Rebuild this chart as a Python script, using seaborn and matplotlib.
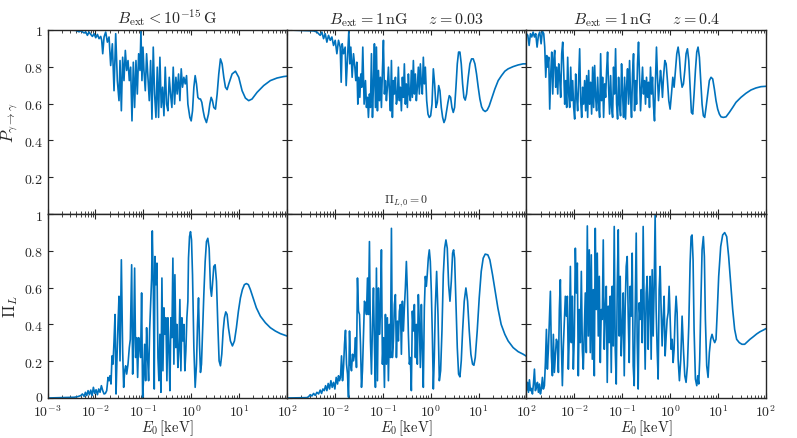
import numpy as np
import pandas as pd
import matplotlib
matplotlib.use('Agg')
import matplotlib.pyplot as plt
import matplotlib.transforms as mtransforms
import seaborn as sns
from matplotlib.ticker import LogLocator, NullFormatter

# log10(E0 / keV) and curve values, one pair of lists per panel
# top row: photon survival probability P_{gamma->gamma}
tl_logE = [-3.0, -2.583, -2.41, -2.34, -2.306, -2.236, -2.201, -2.167, -2.132, -2.097,
           -2.062, -2.028, -1.993, -1.958, -1.924, -1.889, -1.868, -1.847, -1.819, -1.785,
           -1.75, -1.715, -1.681, -1.646, -1.611, -1.576, -1.542, -1.507, -1.486, -1.458,
           -1.431, -1.403, -1.375, -1.347, -1.319, -1.292, -1.264, -1.236, -1.208, -1.181,
           -1.153, -1.125, -1.097, -1.069, -1.049, -1.028, -1.007, -0.986, -0.958, -0.931,
           -0.903, -0.875, -0.847, -0.819, -0.792, -0.764, -0.736, -0.708, -0.681, -0.653,
           -0.625, -0.597, -0.569, -0.542, -0.514, -0.486, -0.458, -0.431, -0.403, -0.375,
           -0.347, -0.319, -0.292, -0.264, -0.236, -0.208, -0.181, -0.153, -0.125, -0.097,
           -0.069, -0.028, 0.0, 0.028, 0.056, 0.083, 0.111, 0.139, 0.167, 0.194,
           0.222, 0.25, 0.278, 0.319, 0.361, 0.389, 0.417, 0.444, 0.472, 0.507,
           0.542, 0.576, 0.611, 0.646, 0.681, 0.715, 0.75, 0.785, 0.854, 0.924,
           0.993, 1.063, 1.132, 1.201, 1.271, 1.375, 1.514, 1.653, 1.792, 1.931, 2.0]
tl_p = [1.0, 1.0, 0.998, 0.99, 0.996, 0.984, 0.99, 0.971, 0.989, 0.976,
        0.965, 0.98, 0.958, 0.976, 0.953, 0.965, 0.944, 0.871, 0.962, 0.989,
        0.934, 0.962, 0.807, 0.925, 0.67, 0.98, 0.725, 0.616, 0.834, 0.561,
        0.852, 0.725, 0.889, 0.78, 0.834, 0.725, 0.798, 0.506, 0.825, 0.579,
        0.834, 0.652, 0.871, 0.78, 0.998, 0.725, 0.907, 0.78, 0.67, 0.871,
        0.743, 0.616, 0.834, 0.516, 0.907, 0.652, 0.525, 0.798, 0.525, 0.852,
        0.579, 0.689, 0.534, 0.798, 0.597, 0.561, 0.743, 0.652, 0.579, 0.798,
        0.597, 0.743, 0.652, 0.761, 0.616, 0.789, 0.689, 0.743, 0.707, 0.752,
        0.597, 0.525, 0.506, 0.561, 0.689, 0.752, 0.707, 0.634, 0.625, 0.625,
        0.607, 0.561, 0.525, 0.497, 0.543, 0.597, 0.634, 0.616, 0.579, 0.57,
        0.652, 0.761, 0.843, 0.816, 0.743, 0.689, 0.676, 0.707, 0.761, 0.776,
        0.743, 0.67, 0.63, 0.616, 0.625, 0.661, 0.698, 0.725, 0.739, 0.747, 0.749]

tm_logE = [-3.0, -2.444, -2.375, -2.306, -2.271, -2.236, -2.201, -2.167, -2.132, -2.097,
           -2.062, -2.028, -1.993, -1.958, -1.924, -1.889, -1.868, -1.847, -1.819, -1.785,
           -1.764, -1.736, -1.708, -1.688, -1.667, -1.639, -1.611, -1.583, -1.563, -1.542,
           -1.521, -1.5, -1.479, -1.458, -1.438, -1.417, -1.389, -1.361, -1.34, -1.319,
           -1.299, -1.278, -1.257, -1.236, -1.215, -1.194, -1.174, -1.153, -1.132, -1.111,
           -1.09, -1.069, -1.049, -1.028, -1.007, -0.986, -0.965, -0.944, -0.924, -0.903,
           -0.882, -0.861, -0.84, -0.819, -0.799, -0.778, -0.757, -0.736, -0.715, -0.694,
           -0.674, -0.653, -0.632, -0.611, -0.59, -0.569, -0.549, -0.528, -0.507, -0.486,
           -0.465, -0.444, -0.424, -0.403, -0.382, -0.361, -0.34, -0.319, -0.299, -0.278,
           -0.257, -0.236, -0.215, -0.194, -0.174, -0.153, -0.132, -0.111, -0.083, -0.056,
           -0.028, 0.0, 0.028, 0.056, 0.083, 0.111, 0.139, 0.167, 0.194, 0.222,
           0.25, 0.278, 0.306, 0.333, 0.361, 0.389, 0.417, 0.444, 0.472, 0.5,
           0.528, 0.556, 0.583, 0.611, 0.639, 0.667, 0.694, 0.722, 0.75, 0.785,
           0.819, 0.854, 0.889, 0.924, 0.958, 0.993, 1.028, 1.063, 1.097, 1.139,
           1.181, 1.222, 1.271, 1.34, 1.41, 1.479, 1.549, 1.618, 1.722, 1.826,
           1.931, 2.0]
tm_p = [1.0, 0.995, 0.989, 0.971, 0.989, 0.953, 0.98, 0.934, 0.971, 0.944,
        0.962, 0.916, 0.944, 0.871, 0.944, 0.907, 0.716, 0.925, 0.871, 0.907,
        0.698, 0.852, 0.998, 0.816, 0.907, 0.743, 0.871, 0.798, 0.725, 0.825,
        0.597, 0.743, 0.634, 0.761, 0.689, 0.907, 0.597, 0.725, 0.579, 0.634,
        0.525, 0.652, 0.579, 0.871, 0.525, 0.707, 0.925, 0.579, 0.907, 0.561,
        0.78, 0.616, 0.743, 0.579, 0.78, 0.944, 0.652, 0.725, 0.616, 0.689,
        0.798, 0.67, 0.561, 0.834, 0.525, 0.725, 0.652, 0.743, 0.597, 0.634,
        0.798, 0.616, 0.689, 0.561, 0.743, 0.634, 0.816, 0.597, 0.707, 0.579,
        0.761, 0.652, 0.616, 0.78, 0.634, 0.834, 0.652, 0.761, 0.616, 0.689,
        0.798, 0.652, 0.816, 0.707, 0.652, 0.852, 0.707, 0.798, 0.616, 0.543,
        0.525, 0.534, 0.597, 0.789, 0.707, 0.579, 0.607, 0.698, 0.67, 0.579,
        0.525, 0.497, 0.516, 0.561, 0.607, 0.643, 0.634, 0.579, 0.552, 0.579,
        0.689, 0.816, 0.88, 0.88, 0.816, 0.707, 0.634, 0.619, 0.652, 0.743,
        0.816, 0.843, 0.843, 0.816, 0.761, 0.689, 0.625, 0.583, 0.565, 0.557,
        0.565, 0.587, 0.625, 0.679, 0.725, 0.752, 0.776, 0.789, 0.801, 0.81,
        0.816, 0.816]

tr_logE = [-3.0, -2.972, -2.944, -2.917, -2.889, -2.861, -2.833, -2.806, -2.778, -2.75,
           -2.722, -2.694, -2.667, -2.639, -2.618, -2.597, -2.576, -2.556, -2.535, -2.514,
           -2.493, -2.472, -2.451, -2.431, -2.41, -2.389, -2.368, -2.347, -2.326, -2.306,
           -2.285, -2.264, -2.243, -2.222, -2.201, -2.181, -2.16, -2.139, -2.118, -2.097,
           -2.076, -2.056, -2.035, -2.014, -1.993, -1.972, -1.951, -1.931, -1.91, -1.889,
           -1.868, -1.847, -1.826, -1.806, -1.785, -1.764, -1.743, -1.722, -1.701, -1.681,
           -1.66, -1.639, -1.618, -1.597, -1.576, -1.556, -1.535, -1.514, -1.493, -1.472,
           -1.451, -1.431, -1.41, -1.389, -1.368, -1.347, -1.326, -1.306, -1.285, -1.264,
           -1.243, -1.222, -1.201, -1.181, -1.16, -1.139, -1.118, -1.097, -1.076, -1.056,
           -1.035, -1.014, -0.993, -0.972, -0.951, -0.931, -0.91, -0.889, -0.868, -0.847,
           -0.826, -0.806, -0.785, -0.764, -0.743, -0.722, -0.701, -0.681, -0.66, -0.639,
           -0.618, -0.597, -0.576, -0.556, -0.535, -0.514, -0.493, -0.472, -0.451, -0.431,
           -0.41, -0.389, -0.368, -0.347, -0.326, -0.306, -0.285, -0.264, -0.243, -0.222,
           -0.201, -0.181, -0.16, -0.139, -0.111, -0.083, -0.056, -0.028, 0.0, 0.028,
           0.056, 0.083, 0.111, 0.139, 0.167, 0.194, 0.222, 0.25, 0.278, 0.306,
           0.333, 0.361, 0.389, 0.417, 0.444, 0.472, 0.5, 0.528, 0.556, 0.583,
           0.611, 0.639, 0.667, 0.694, 0.722, 0.75, 0.785, 0.819, 0.854, 0.889,
           0.924, 0.958, 0.993, 1.028, 1.063, 1.111, 1.167, 1.236, 1.306, 1.375,
           1.479, 1.583, 1.688, 1.792, 1.896, 2.0]
tr_p = [0.98, 0.971, 0.916, 0.98, 0.962, 0.989, 0.962, 0.98, 0.907, 0.971,
        0.989, 0.925, 0.995, 0.98, 0.907, 0.743, 0.861, 0.798, 0.852, 0.57,
        0.761, 0.88, 0.652, 0.834, 0.889, 0.689, 0.798, 0.652, 0.816, 0.743,
        0.634, 0.871, 0.934, 0.78, 0.597, 0.725, 0.579, 0.852, 0.652, 0.579,
        0.798, 0.616, 0.725, 0.579, 0.516, 0.761, 0.634, 0.561, 0.725, 0.898,
        0.616, 0.525, 0.689, 0.597, 0.725, 0.561, 0.752, 0.525, 0.78, 0.597,
        0.716, 0.543, 0.798, 0.579, 0.807, 0.634, 0.561, 0.743, 0.597, 0.525,
        0.871, 0.616, 0.743, 0.525, 0.707, 0.634, 0.78, 0.88, 0.689, 0.543,
        0.752, 0.579, 0.525, 0.798, 0.652, 0.898, 0.597, 0.516, 0.743, 0.597,
        0.534, 0.816, 0.652, 0.525, 0.743, 0.516, 0.689, 0.789, 0.597, 0.834,
        0.634, 0.525, 0.761, 0.871, 0.561, 0.725, 0.597, 0.816, 0.934, 0.743,
        0.561, 0.689, 0.798, 0.652, 0.725, 0.597, 0.743, 0.634, 0.716, 0.579,
        0.798, 0.652, 0.743, 0.588, 0.506, 0.725, 0.907, 0.743, 0.616, 0.698,
        0.78, 0.725, 0.634, 0.743, 0.834, 0.816, 0.725, 0.616, 0.57, 0.652,
        0.743, 0.689, 0.78, 0.871, 0.907, 0.852, 0.743, 0.689, 0.707, 0.78,
        0.871, 0.898, 0.834, 0.689, 0.552, 0.543, 0.652, 0.78, 0.88, 0.907,
        0.852, 0.725, 0.597, 0.534, 0.525, 0.579, 0.652, 0.725, 0.743, 0.734,
        0.679, 0.616, 0.57, 0.543, 0.528, 0.525, 0.528, 0.552, 0.579, 0.607,
        0.634, 0.656, 0.674, 0.685, 0.692, 0.694]

# bottom row: linear polarisation Pi_L
bl_logE = [-3.0, -2.444, -2.375, -2.306, -2.271, -2.236, -2.208, -2.181, -2.153, -2.125,
           -2.097, -2.069, -2.042, -2.014, -1.986, -1.958, -1.931, -1.903, -1.875, -1.847,
           -1.819, -1.792, -1.764, -1.736, -1.715, -1.694, -1.674, -1.653, -1.632, -1.611,
           -1.59, -1.569, -1.549, -1.528, -1.507, -1.486, -1.458, -1.431, -1.41, -1.389,
           -1.368, -1.347, -1.319, -1.292, -1.271, -1.243, -1.222, -1.201, -1.181, -1.16,
           -1.139, -1.118, -1.097, -1.076, -1.056, -1.035, -1.014, -0.993, -0.972, -0.951,
           -0.931, -0.91, -0.889, -0.868, -0.847, -0.826, -0.812, -0.792, -0.771, -0.757,
           -0.736, -0.715, -0.694, -0.674, -0.653, -0.632, -0.611, -0.59, -0.569, -0.549,
           -0.528, -0.507, -0.486, -0.465, -0.444, -0.424, -0.403, -0.382, -0.361, -0.34,
           -0.319, -0.299, -0.278, -0.257, -0.236, -0.215, -0.194, -0.174, -0.153, -0.132,
           -0.111, -0.09, -0.069, -0.056, -0.035, -0.014, 0.007, 0.028, 0.056, 0.083,
           0.111, 0.132, 0.153, 0.174, 0.194, 0.215, 0.236, 0.264, 0.292, 0.319,
           0.347, 0.375, 0.403, 0.424, 0.444, 0.472, 0.5, 0.528, 0.556, 0.583,
           0.611, 0.639, 0.667, 0.694, 0.722, 0.75, 0.778, 0.819, 0.861, 0.903,
           0.944, 0.986, 1.028, 1.069, 1.111, 1.153, 1.194, 1.236, 1.292, 1.361,
           1.444, 1.549, 1.653, 1.757, 1.861, 2.0]
bl_pol = [0.0, 0.004, 0.007, 0.013, 0.022, 0.009, 0.031, 0.013, 0.04, 0.018,
          0.043, 0.013, 0.058, 0.025, 0.045, 0.018, 0.049, 0.031, 0.067, 0.04,
          0.022, 0.025, 0.04, 0.112, 0.094, 0.121, 0.076, 0.229, 0.184, 0.31,
          0.454, 0.022, 0.22, 0.4, 0.553, 0.202, 0.751, 0.256, 0.058, 0.148,
          0.175, 0.13, 0.184, 0.274, 0.319, 0.724, 0.13, 0.328, 0.706, 0.22,
          0.328, 0.112, 0.328, 0.292, 0.22, 0.571, 0.004, 0.112, 0.292, 0.094,
          0.382, 0.22, 0.094, 0.364, 0.508, 0.652, 0.908, 0.634, 0.049, 0.769,
          0.616, 0.733, 0.22, 0.094, 0.346, 0.031, 0.652, 0.148, 0.49, 0.346,
          0.436, 0.094, 0.436, 0.274, 0.04, 0.436, 0.328, 0.76, 0.184, 0.67,
          0.274, 0.4, 0.166, 0.256, 0.535, 0.148, 0.436, 0.31, 0.4, 0.148,
          0.256, 0.436, 0.526, 0.76, 0.877, 0.904, 0.859, 0.67, 0.274, 0.058,
          0.184, 0.4, 0.544, 0.292, 0.139, 0.184, 0.346, 0.562, 0.742, 0.85,
          0.868, 0.814, 0.598, 0.553, 0.616, 0.715, 0.724, 0.634, 0.4, 0.202,
          0.175, 0.238, 0.364, 0.436, 0.468, 0.454, 0.382, 0.31, 0.283, 0.31,
          0.382, 0.472, 0.544, 0.589, 0.616, 0.622, 0.616, 0.589, 0.544, 0.49,
          0.445, 0.409, 0.382, 0.364, 0.35, 0.337]

bm_logE = [-3.0, -2.583, -2.549, -2.514, -2.479, -2.444, -2.41, -2.375, -2.34, -2.306,
           -2.278, -2.25, -2.222, -2.194, -2.167, -2.139, -2.111, -2.083, -2.056, -2.028,
           -2.0, -1.972, -1.944, -1.924, -1.903, -1.882, -1.861, -1.84, -1.819, -1.799,
           -1.778, -1.757, -1.736, -1.715, -1.694, -1.674, -1.653, -1.632, -1.611, -1.59,
           -1.569, -1.549, -1.528, -1.507, -1.486, -1.465, -1.444, -1.424, -1.403, -1.382,
           -1.361, -1.34, -1.319, -1.299, -1.278, -1.257, -1.236, -1.215, -1.194, -1.174,
           -1.153, -1.132, -1.111, -1.09, -1.069, -1.049, -1.028, -1.007, -0.986, -0.965,
           -0.944, -0.924, -0.903, -0.882, -0.861, -0.84, -0.819, -0.799, -0.778, -0.757,
           -0.736, -0.715, -0.694, -0.674, -0.653, -0.632, -0.611, -0.59, -0.569, -0.549,
           -0.528, -0.507, -0.486, -0.465, -0.444, -0.424, -0.403, -0.382, -0.361, -0.34,
           -0.319, -0.299, -0.278, -0.257, -0.236, -0.215, -0.194, -0.174, -0.153, -0.132,
           -0.111, -0.09, -0.069, -0.049, -0.028, -0.007, 0.014, 0.035, 0.056, 0.076,
           0.097, 0.125, 0.153, 0.181, 0.208, 0.236, 0.264, 0.292, 0.319, 0.347,
           0.375, 0.403, 0.431, 0.458, 0.479, 0.5, 0.528, 0.556, 0.583, 0.611,
           0.639, 0.667, 0.701, 0.736, 0.771, 0.806, 0.84, 0.875, 0.903, 0.931,
           0.972, 1.014, 1.056, 1.097, 1.139, 1.194, 1.236, 1.292, 1.347, 1.403,
           1.472, 1.549, 1.618, 1.722, 1.826, 1.931, 2.0]
bm_pol = [0.0, 0.002, 0.007, 0.018, 0.011, 0.025, 0.014, 0.031, 0.022, 0.043,
          0.025, 0.049, 0.04, 0.067, 0.04, 0.079, 0.049, 0.094, 0.058, 0.085,
          0.049, 0.112, 0.076, 0.121, 0.094, 0.112, 0.229, 0.094, 0.166, 0.292,
          0.368, 0.184, 0.13, 0.004, 0.364, 0.184, 0.148, 0.238, 0.202, 0.238,
          0.328, 0.166, 0.652, 0.472, 0.454, 0.292, 0.058, 0.148, 0.346, 0.526,
          0.508, 0.454, 0.652, 0.454, 0.85, 0.31, 0.13, 0.4, 0.598, 0.292,
          0.058, 0.706, 0.094, 0.598, 0.346, 0.454, 0.805, 0.184, 0.328, 0.058,
          0.454, 0.184, 0.436, 0.094, 0.4, 0.22, 0.922, 0.22, 0.31, 0.508,
          0.562, 0.22, 0.418, 0.31, 0.472, 0.508, 0.238, 0.526, 0.364, 0.49,
          0.598, 0.742, 0.58, 0.346, 0.184, 0.22, 0.04, 0.472, 0.364, 0.508,
          0.22, 0.4, 0.184, 0.562, 0.4, 0.166, 0.508, 0.274, 0.058, 0.49,
          0.661, 0.607, 0.679, 0.76, 0.805, 0.742, 0.58, 0.346, 0.049, 0.22,
          0.49, 0.688, 0.454, 0.094, 0.148, 0.364, 0.67, 0.814, 0.859, 0.814,
          0.616, 0.526, 0.634, 0.787, 0.805, 0.76, 0.526, 0.274, 0.13, 0.115,
          0.202, 0.364, 0.526, 0.598, 0.526, 0.364, 0.238, 0.184, 0.178, 0.22,
          0.364, 0.544, 0.688, 0.76, 0.782, 0.778, 0.751, 0.67, 0.58, 0.49,
          0.4, 0.346, 0.31, 0.274, 0.252, 0.238, 0.227]

br_logE = [-3.0, -2.979, -2.958, -2.938, -2.917, -2.896, -2.875, -2.854, -2.833, -2.813,
           -2.792, -2.771, -2.75, -2.729, -2.708, -2.688, -2.667, -2.646, -2.625, -2.604,
           -2.583, -2.563, -2.542, -2.521, -2.5, -2.479, -2.458, -2.438, -2.417, -2.396,
           -2.375, -2.354, -2.333, -2.313, -2.292, -2.271, -2.25, -2.229, -2.208, -2.188,
           -2.167, -2.146, -2.125, -2.104, -2.083, -2.063, -2.042, -2.021, -2.0, -1.979,
           -1.958, -1.938, -1.917, -1.896, -1.875, -1.854, -1.833, -1.813, -1.792, -1.771,
           -1.75, -1.729, -1.708, -1.688, -1.667, -1.646, -1.625, -1.604, -1.583, -1.563,
           -1.542, -1.521, -1.5, -1.479, -1.458, -1.438, -1.417, -1.396, -1.375, -1.354,
           -1.333, -1.313, -1.292, -1.271, -1.25, -1.229, -1.208, -1.188, -1.167, -1.146,
           -1.125, -1.104, -1.083, -1.063, -1.042, -1.021, -1.0, -0.979, -0.958, -0.938,
           -0.917, -0.896, -0.875, -0.854, -0.833, -0.813, -0.792, -0.771, -0.75, -0.729,
           -0.708, -0.688, -0.667, -0.646, -0.625, -0.604, -0.583, -0.563, -0.542, -0.521,
           -0.5, -0.479, -0.458, -0.438, -0.417, -0.396, -0.375, -0.354, -0.333, -0.313,
           -0.292, -0.271, -0.25, -0.229, -0.208, -0.188, -0.167, -0.146, -0.125, -0.104,
           -0.083, -0.063, -0.042, -0.021, 0.0, 0.021, 0.042, 0.063, 0.083, 0.104,
           0.125, 0.146, 0.167, 0.194, 0.222, 0.25, 0.278, 0.306, 0.333, 0.361,
           0.389, 0.417, 0.438, 0.458, 0.479, 0.5, 0.528, 0.556, 0.576, 0.597,
           0.618, 0.639, 0.667, 0.694, 0.715, 0.736, 0.764, 0.792, 0.819, 0.847,
           0.875, 0.903, 0.931, 0.958, 0.986, 1.014, 1.056, 1.097, 1.139, 1.181,
           1.222, 1.264, 1.306, 1.347, 1.389, 1.444, 1.5, 1.556, 1.611, 1.667,
           1.736, 1.806, 1.875, 1.944, 2.0]
br_pol = [0.04, 0.085, 0.031, 0.099, 0.04, 0.052, 0.022, 0.076, 0.157, 0.04,
          0.058, 0.085, 0.031, 0.076, 0.022, 0.049, 0.112, 0.049, 0.067, 0.193,
          0.373, 0.157, 0.265, 0.427, 0.58, 0.229, 0.121, 0.346, 0.139, 0.229,
          0.319, 0.301, 0.139, 0.481, 0.643, 0.301, 0.067, 0.283, 0.427, 0.553,
          0.445, 0.553, 0.157, 0.355, 0.715, 0.301, 0.553, 0.157, 0.337, 0.814,
          0.571, 0.733, 0.121, 0.481, 0.301, 0.688, 0.265, 0.157, 0.373, 0.571,
          0.247, 0.935, 0.337, 0.805, 0.247, 0.778, 0.211, 0.589, 0.121, 0.922,
          0.481, 0.787, 0.337, 0.661, 0.193, 0.481, 0.427, 0.859, 0.265, 0.481,
          0.607, 0.085, 0.499, 0.301, 0.553, 0.139, 0.607, 0.283, 0.932, 0.265,
          0.076, 0.607, 0.914, 0.337, 0.661, 0.229, 0.382, 0.571, 0.121, 0.499,
          0.715, 0.769, 0.445, 0.193, 0.607, 0.445, 0.787, 0.175, 0.067, 0.481,
          0.896, 0.319, 0.049, 0.517, 0.427, 0.589, 0.301, 0.932, 0.481, 0.157,
          0.571, 0.661, 0.265, 0.517, 0.661, 0.211, 0.697, 0.337, 0.607, 0.995,
          0.481, 0.265, 0.103, 0.589, 0.715, 0.481, 0.283, 0.427, 0.553, 0.229,
          0.337, 0.427, 0.463, 0.607, 0.427, 0.265, 0.319, 0.193, 0.265, 0.445,
          0.553, 0.463, 0.211, 0.094, 0.211, 0.445, 0.265, 0.121, 0.085, 0.175,
          0.391, 0.733, 0.877, 0.886, 0.751, 0.373, 0.103, 0.067, 0.121, 0.076,
          0.211, 0.481, 0.805, 0.877, 0.769, 0.427, 0.175, 0.112, 0.247, 0.319,
          0.346, 0.319, 0.301, 0.319, 0.481, 0.661, 0.823, 0.886, 0.899, 0.877,
          0.769, 0.625, 0.481, 0.373, 0.319, 0.301, 0.292, 0.292, 0.305, 0.319,
          0.333, 0.348, 0.36, 0.369, 0.377]

titles = [r'$B_{\rm ext} < 10^{-15}\,{\rm G}$',
          r'$B_{\rm ext} = 1\,{\rm nG}\quad\;\;z = 0.03$',
          r'$B_{\rm ext} = 1\,{\rm nG}\quad\;\;z = 0.4$']
x_ticks = [1e-3, 1e-2, 1e-1, 1e0, 1e1, 1e2]
x_labels = [r'$10^{-3}$', r'$10^{-2}$', r'$10^{-1}$', r'$10^{0}$', r'$10^{1}$', r'$10^{2}$']
y_ticks = [0, 0.2, 0.4, 0.6, 0.8, 1]
y_labels = [r'$0$', r'$0.2$', r'$0.4$', r'$0.6$', r'$0.8$', r'$1$']

sns.set_theme(style='ticks')
plt.rcParams.update({
    'mathtext.fontset': 'cm',
    'axes.edgecolor': '#262626',
    'axes.linewidth': 1.0,
    'xtick.direction': 'in', 'ytick.direction': 'in',
    'xtick.top': True, 'ytick.right': True,
    'xtick.major.size': 3.5, 'ytick.major.size': 3.5,
    'xtick.minor.size': 2, 'xtick.major.width': 0.8, 'xtick.minor.width': 0.6,
    'ytick.major.width': 0.8,
    'xtick.color': '#262626', 'ytick.color': '#262626',
    'xtick.labelsize': 10, 'ytick.labelsize': 10,
    'axes.facecolor': 'white',
})
plt.rcParams['font.family'] = ['DejaVu Serif']

line_color = '#0072BD'

fig, axes = plt.subplots(2, 3, figsize=(7.97, 4.39), dpi=100)
fig.subplots_adjust(left=0.0596, right=0.961, top=0.9294, bottom=0.0911,
                    wspace=0, hspace=0)

panels = [[(tl_logE, tl_p), (tm_logE, tm_p), (tr_logE, tr_p)],
          [(bl_logE, bl_pol), (bm_logE, bm_pol), (br_logE, br_pol)]]

for r in range(2):
    for c in range(3):
        ax = axes[r, c]
        lx, vals = panels[r][c]
        df = pd.DataFrame({'E': 10 ** np.array(lx), 'v': vals})
        sns.lineplot(data=df, x='E', y='v', ax=ax, color=line_color, lw=1.2,
                     estimator=None, sort=False)
        ax.set_xscale('log')
        ax.set_xlim(1e-3, 1e2)
        ax.set_ylim(0, 1)
        ax.xaxis.set_minor_locator(LogLocator(base=10, subs=np.arange(2, 10)))
        ax.xaxis.set_minor_formatter(NullFormatter())
        if r == 1:
            labs = list(x_labels)
            if c > 0:
                labs[0] = ''
            ax.set_xticks(x_ticks, labels=labs)
            ax.set_xlabel(r'$E_0\,[{\rm keV}]$', fontsize=10.5, labelpad=-1)
        else:
            ax.set_xticks(x_ticks, labels=[''] * 6)
            ax.set_xlabel('')
            ax.set_title(titles[c], fontsize=11.5, pad=5)
        if c == 0:
            labs = list(y_labels)
            if r == 0:
                labs[0] = ''
            ax.set_yticks(y_ticks, labels=labs)
        else:
            ax.set_yticks(y_ticks, labels=[''] * 6)
        ax.set_ylabel('')
        ax.tick_params(which='both', top=True, right=True)
        ax.tick_params(axis='x', pad=4)
        ax.tick_params(axis='y', pad=3)

# lift the lowest y label a touch so it clears the 10^-3 label below it
zero_lab = axes[1, 0].get_yticklabels()[0]
zero_lab.set_transform(zero_lab.get_transform()
                       + mtransforms.ScaledTranslation(0, 2 / 72, fig.dpi_scale_trans))

axes[0, 0].set_ylabel(r'$P_{\gamma\to\gamma}$', fontsize=12, labelpad=3)
axes[1, 0].set_ylabel(r'$\Pi_L$', fontsize=12, labelpad=3)
axes[0, 1].text(0.5, 0.03, r'$\Pi_{L,0} = 0$', transform=axes[0, 1].transAxes,
                ha='center', va='bottom', fontsize=8.5)

fig.savefig('out.png', dpi=100, facecolor='white')
